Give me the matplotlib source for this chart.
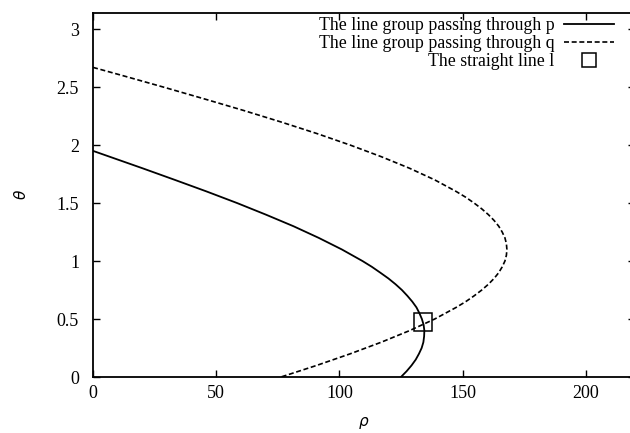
import matplotlib
matplotlib.use("Agg")
import matplotlib.pyplot as plt

# Curve through p (solid): theta -> rho
theta_p = [1.95, 1.9, 1.8, 1.7, 1.6, 1.5, 1.4, 1.3, 1.2, 1.1, 1.0, 0.95, 0.9,
           0.85, 0.8, 0.75, 0.7, 0.65, 0.6, 0.55, 0.5, 0.45, 0.4, 0.35, 0.3,
           0.25, 0.2, 0.15, 0.1, 0.05, 0.0]
rho_p = [0.0, 6.7, 20.1, 33.2, 46.1, 58.5, 70.2, 81.4, 91.6, 101.0, 109.4,
         113.2, 116.6, 119.9, 122.8, 125.4, 127.6, 129.6, 131.3, 132.5, 133.5,
         134.2, 134.5, 134.4, 134.1, 133.4, 132.3, 131.0, 129.3, 127.3, 125.0]

# Curve through q (dashed)
theta_q = [2.67, 2.6, 2.5, 2.4, 2.3, 2.2, 2.1, 2.0, 1.9, 1.8, 1.7, 1.6, 1.55,
           1.5, 1.45, 1.4, 1.35, 1.3, 1.25, 1.2, 1.15, 1.1, 1.05, 1.0, 0.95,
           0.9, 0.85, 0.8, 0.75, 0.7, 0.65, 0.6, 0.5, 0.4, 0.3, 0.2, 0.1, 0.0]
rho_q = [0.0, 11.9, 28.6, 44.9, 60.9, 76.2, 90.8, 104.4, 117.0, 128.5, 138.7,
         147.4, 151.3, 154.7, 157.8, 160.5, 162.8, 164.7, 166.1, 167.2, 167.8,
         168.0, 167.8, 167.2, 166.1, 164.7, 162.8, 160.5, 157.8, 154.7, 151.3,
         147.4, 138.7, 128.5, 117.0, 104.4, 90.8, 76.3]

# Intersection: the straight line l
line_rho = [134.0]
line_theta = [0.47]

labels = ["The line group passing through p",
          "The line group passing through q",
          "The straight line l"]
xticks = [0, 50, 100, 150, 200]
yticks = [0, 0.5, 1, 1.5, 2, 2.5, 3]

plt.rcParams["font.family"] = ["Liberation Serif", "DejaVu Serif"]
plt.rcParams["font.size"] = 12

fig = plt.figure(figsize=(6.3, 4.33), dpi=100)
ax = fig.add_axes([93 / 630, 1 - 377 / 433, (635 - 93) / 630, (377 - 12.7) / 433])

ax.plot(rho_p, theta_p, color="black", lw=1.3, label=labels[0])
ax.plot(rho_q, theta_q, color="black", lw=1.2, linestyle=(0, (3, 1.6)), label=labels[1])
ax.plot(line_rho, line_theta, linestyle="none", marker="s", markersize=12.5,
        markerfacecolor="none", markeredgecolor="black", markeredgewidth=1.1,
        label=labels[2])

ax.set_xlim(0, 220)
ax.set_ylim(0, 3.1416)
ax.set_xticks(xticks)
ax.set_xticklabels([str(t) for t in xticks])
ax.set_yticks(yticks)
ax.set_yticklabels(["0", "0.5", "1", "1.5", "2", "2.5", "3"])
ax.tick_params(direction="in", top=True, right=True, length=5, width=1,
               labelsize=13)
ax.tick_params(axis="x", pad=6)
ax.tick_params(axis="y", pad=10)
for s in ax.spines.values():
    s.set_linewidth(1.3)

ax.set_xlabel(r"$\rho$", fontsize=11, labelpad=9)
ax.set_ylabel(r"$\theta$", fontsize=11, labelpad=20)

leg = ax.legend(loc="upper right", bbox_to_anchor=(614 / 630, 1 - 17 / 433),
                bbox_transform=fig.transFigure, frameon=False, markerfirst=False,
                handlelength=2.8, handletextpad=0.55, labelspacing=0.05,
                borderpad=0, borderaxespad=0, fontsize=12.8)
for h in leg.legend_handles:
    if h.get_marker() == "s":
        h.set_markersize(10)

fig.savefig("out.png", dpi=100)
